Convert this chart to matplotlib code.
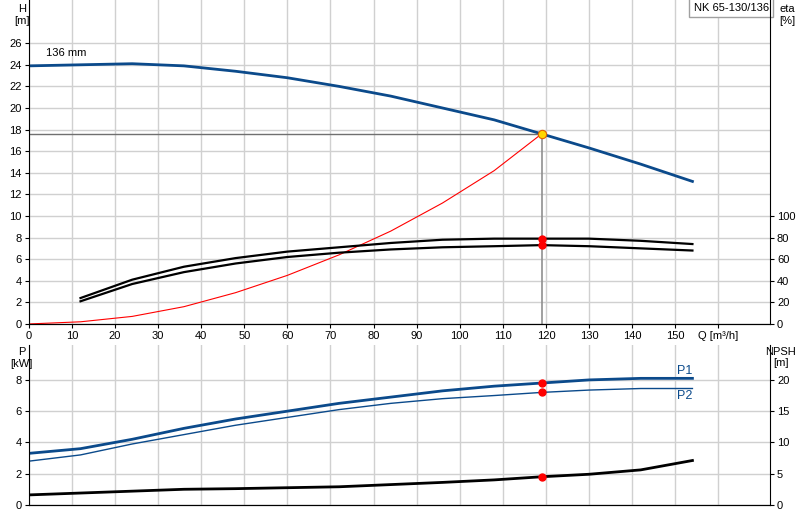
import matplotlib
matplotlib.use('Agg')
import matplotlib.pyplot as plt
import numpy as np

# Pump curve data
q = [0, 12, 24, 36, 48, 60, 72, 84, 96, 108, 119, 130, 142, 154]
head = [23.9, 24.0, 24.1, 23.9, 23.4, 22.8, 22.0, 21.1, 20.0, 18.9, 17.6, 16.3, 14.8, 13.2]
q_eta = [12, 24, 36, 48, 60, 72, 84, 96, 108, 119, 130, 142, 154]
eta_upper = [24, 41, 53, 61, 67, 71, 75, 78, 79, 79, 79, 77, 74]
eta_lower = [21, 37, 48, 56, 62, 66, 69, 71, 72, 73, 72, 70, 68]
q_sys = [0, 12, 24, 36, 48, 60, 72, 84, 96, 108, 119]
h_sys = [0, 0.2, 0.7, 1.6, 2.9, 4.5, 6.4, 8.6, 11.2, 14.2, 17.6]
p1 = [3.3, 3.6, 4.2, 4.9, 5.5, 6.0, 6.5, 6.9, 7.3, 7.6, 7.8, 8.0, 8.1, 8.1]
p2 = [2.8, 3.2, 3.9, 4.5, 5.1, 5.6, 6.1, 6.5, 6.8, 7.0, 7.2, 7.35, 7.45, 7.45]
npsh = [1.6, 1.9, 2.2, 2.5, 2.6, 2.75, 2.9, 3.25, 3.6, 4.0, 4.5, 4.9, 5.6, 7.1]
q_op, h_op, eta_op_u, eta_op_l = 119, 17.6, 79, 73
p1_op, p2_op, npsh_op = 7.8, 7.2, 4.5
x_labels = [str(v) for v in range(0, 151, 10)] + ['Q [m³/h]']

blue = '#0b4a8b'
grid_c = '#d0d0d0'
plt.rcParams['font.family'] = 'Liberation Sans'
plt.rcParams['font.size'] = 8

fig = plt.figure(figsize=(8, 5.2), dpi=100)
ax = fig.add_axes([0.036, 0.377, 0.9265, 0.623])
ax2 = fig.add_axes([0.036, 0.029, 0.9265, 0.308])

for a in (ax, ax2):
    a.set_xlim(0, 172)
    a.set_xticks(np.arange(0, 161, 10))
    a.grid(True, color=grid_c, lw=1)
    a.spines['top'].set_visible(False)
    a.spines['right'].set_visible(False)
    a.tick_params(direction='out', length=3, pad=2)

ax.set_ylim(0, 30)
ax.set_yticks(np.arange(0, 27, 2))
ax.set_xticklabels(x_labels)
ax.text(-1.6, 29.6, 'H\n[m]', ha='center', va='top')
ax.plot(q, head, color=blue, lw=2)
ax.text(4, 24.6, '136 mm', va='bottom')
ax.plot(q_sys, h_sys, color='red', lw=0.8)
ax.axhline(h_op, xmax=q_op / 172, color='#707070', lw=1)
ax.plot([q_op, q_op], [0, h_op], color='#909090', lw=1.2)
ax.plot(q_op, h_op, 'o', ms=6, mfc='#ffd700', mec='#e06000', mew=0.8)

axr = ax.twinx()
axr.set_ylim(0, 300)
axr.set_yticks(np.arange(0, 101, 20))
axr.spines['top'].set_visible(False)
axr.spines['left'].set_visible(False)
axr.tick_params(direction='out', length=3, pad=2)
axr.plot(q_eta, eta_upper, color='black', lw=1.6)
axr.plot(q_eta, eta_lower, color='black', lw=1.6)
axr.plot([q_op, q_op], [eta_op_u, eta_op_l], 'o', color='red', ms=5)
axr.text(176, 296, 'eta\n[%]', ha='center', va='top')
ax.text(163, 29.3, 'NK 65-130/136', ha='center', va='center',
        bbox=dict(boxstyle='square,pad=0.4', fc='white', ec='#a0a0a0'))

ax2.set_ylim(0, 10.25)
ax2.set_yticks(np.arange(0, 9, 2))
ax2.set_xticklabels([])
ax2.tick_params(axis='x', length=0)
ax2.text(-1.6, 10.1, 'P\n[kW]', ha='center', va='top')
ax2.plot(q, p1, color=blue, lw=2)
ax2.plot(q, p2, color=blue, lw=1)
ax2.text(154, 8.2, 'P1', color=blue, ha='right', va='bottom', fontsize=9)
ax2.text(154, 7.35, 'P2', color=blue, ha='right', va='top', fontsize=9)
ax2.plot([q_op, q_op], [p1_op, p2_op], 'o', color='red', ms=5)

ax2r = ax2.twinx()
ax2r.set_ylim(0, 25.6)
ax2r.set_yticks(np.arange(0, 21, 5))
ax2r.spines['top'].set_visible(False)
ax2r.spines['left'].set_visible(False)
ax2r.tick_params(direction='out', length=3, pad=2)
ax2r.plot(q, npsh, color='black', lw=2)
ax2r.plot(q_op, npsh_op, 'o', color='red', ms=5)
ax2r.text(174.5, 25.3, 'NPSH\n[m]', ha='center', va='top')

fig.savefig('out.png', dpi=100)
